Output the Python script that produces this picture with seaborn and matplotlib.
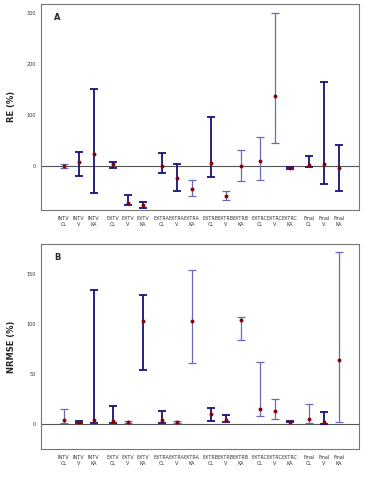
import numpy as np
import pandas as pd
import matplotlib
matplotlib.use("Agg")
import matplotlib.pyplot as plt
import seaborn as sns

groups = ["INTV", "EXTV", "EXTRA", "EXTRB", "EXTRC", "Final"]
params = ["CL", "V", "KA"]

# panel A: relative error (%)
re_mid = [1, 9, 23, 5, -73, -77, 1, -23, -45, 6, -59, 0, 11, 138, -3, 3, 5, -3]
re_hi = [5, 27, 151, 9, -57, -71, 25, 4, -28, 97, -49, 31, 57, 301, -1, 20, 164, 41]
re_lo = [-3, -20, -53, -3, -76, -82, -14, -49, -59, -21, -67, -29, -27, 45, -5, -1, -36, -49]
re_dark = [0, 1, 1, 1, 1, 1, 1, 1, 0, 1, 0, 0, 0, 0, 1, 1, 1, 1]

# panel B: NRMSE (%)
nr_mid = [4, 1.7, 4.3, 3, 1.7, 103, 4.3, 1.7, 103, 9.7, 4, 104, 14.7, 13, 2.3, 5, 2.3, 64]
nr_hi = [15, 3, 134, 17.7, 3.3, 129, 13.3, 3.3, 154, 16, 9, 106.7, 62.3, 25.3, 3, 20, 11.7, 171.7]
nr_lo = [1.3, 1, 0.7, 1.3, 0.7, 54, 1.3, 0.7, 61, 3, 1.7, 84, 8, 5.3, 1.7, 1.3, 0.3, 2.3]
nr_dark = [0, 1, 1, 1, 0, 1, 1, 0, 0, 1, 1, 0, 0, 0, 1, 0, 1, 0]

labels = [f"{g}\n{p}" for g in groups for p in params]
xpos = np.array([g * 3.27 + i for g in range(len(groups)) for i in range(3)])

sns.set_style("white")
fig = plt.figure(figsize=(3.77, 4.8), dpi=100)
axA = fig.add_axes([0.109, 0.5625, 0.843, 0.4295])
axB = fig.add_axes([0.109, 0.0646, 0.843, 0.4274])

DARK = "#14147a"
LIGHT = "#6a6ab8"


def panel(ax, mid, hi, lo, dark, ylabel, letter, ylim, yticks):
    df = pd.DataFrame({"x": xpos, "mid": mid, "hi": hi, "lo": lo, "dark": dark})
    ax.axhline(0, color="#555555", lw=0.8, zorder=1)
    for d, col, lw in [(0, LIGHT, 0.9), (1, DARK, 1.3)]:
        sub = df[df["dark"] == d]
        ax.errorbar(sub["x"], sub["mid"],
                    yerr=[sub["mid"] - sub["lo"], sub["hi"] - sub["mid"]],
                    fmt="none", ecolor=col, elinewidth=lw, capsize=3,
                    capthick=lw, zorder=2)
    sns.scatterplot(data=df, x="x", y="mid", ax=ax, color="#8b0000",
                    marker="o", s=8, linewidth=0, zorder=3)
    ax.set_xlim(xpos[0] - 1.5, xpos[-1] + 1.35)
    ax.set_ylim(*ylim)
    ax.set_yticks(yticks)
    ax.set_yticklabels([str(t) for t in yticks], fontsize=3.5, color="#333333")
    ax.set_xticks(xpos)
    ax.set_xticklabels(labels, fontsize=3.5, color="#333333", linespacing=1.3)
    ax.tick_params(axis="both", length=2, width=0.5, color="#555555", pad=2)
    ax.set_xlabel("")
    ax.set_ylabel(ylabel, fontsize=6, fontweight="bold", labelpad=7)
    ax.text(0.04, 0.955, letter, transform=ax.transAxes, fontsize=6,
            fontweight="bold", va="top")
    for s in ax.spines.values():
        s.set_color("#777777")
        s.set_linewidth(0.8)


panel(axA, re_mid, re_hi, re_lo, re_dark, "RE (%)", "A", (-86, 318), [0, 100, 200, 300])
panel(axB, nr_mid, nr_hi, nr_lo, nr_dark, "NRMSE (%)", "B", (-25, 180), [0, 50, 100, 150])

fig.savefig("out.png", dpi=100)
